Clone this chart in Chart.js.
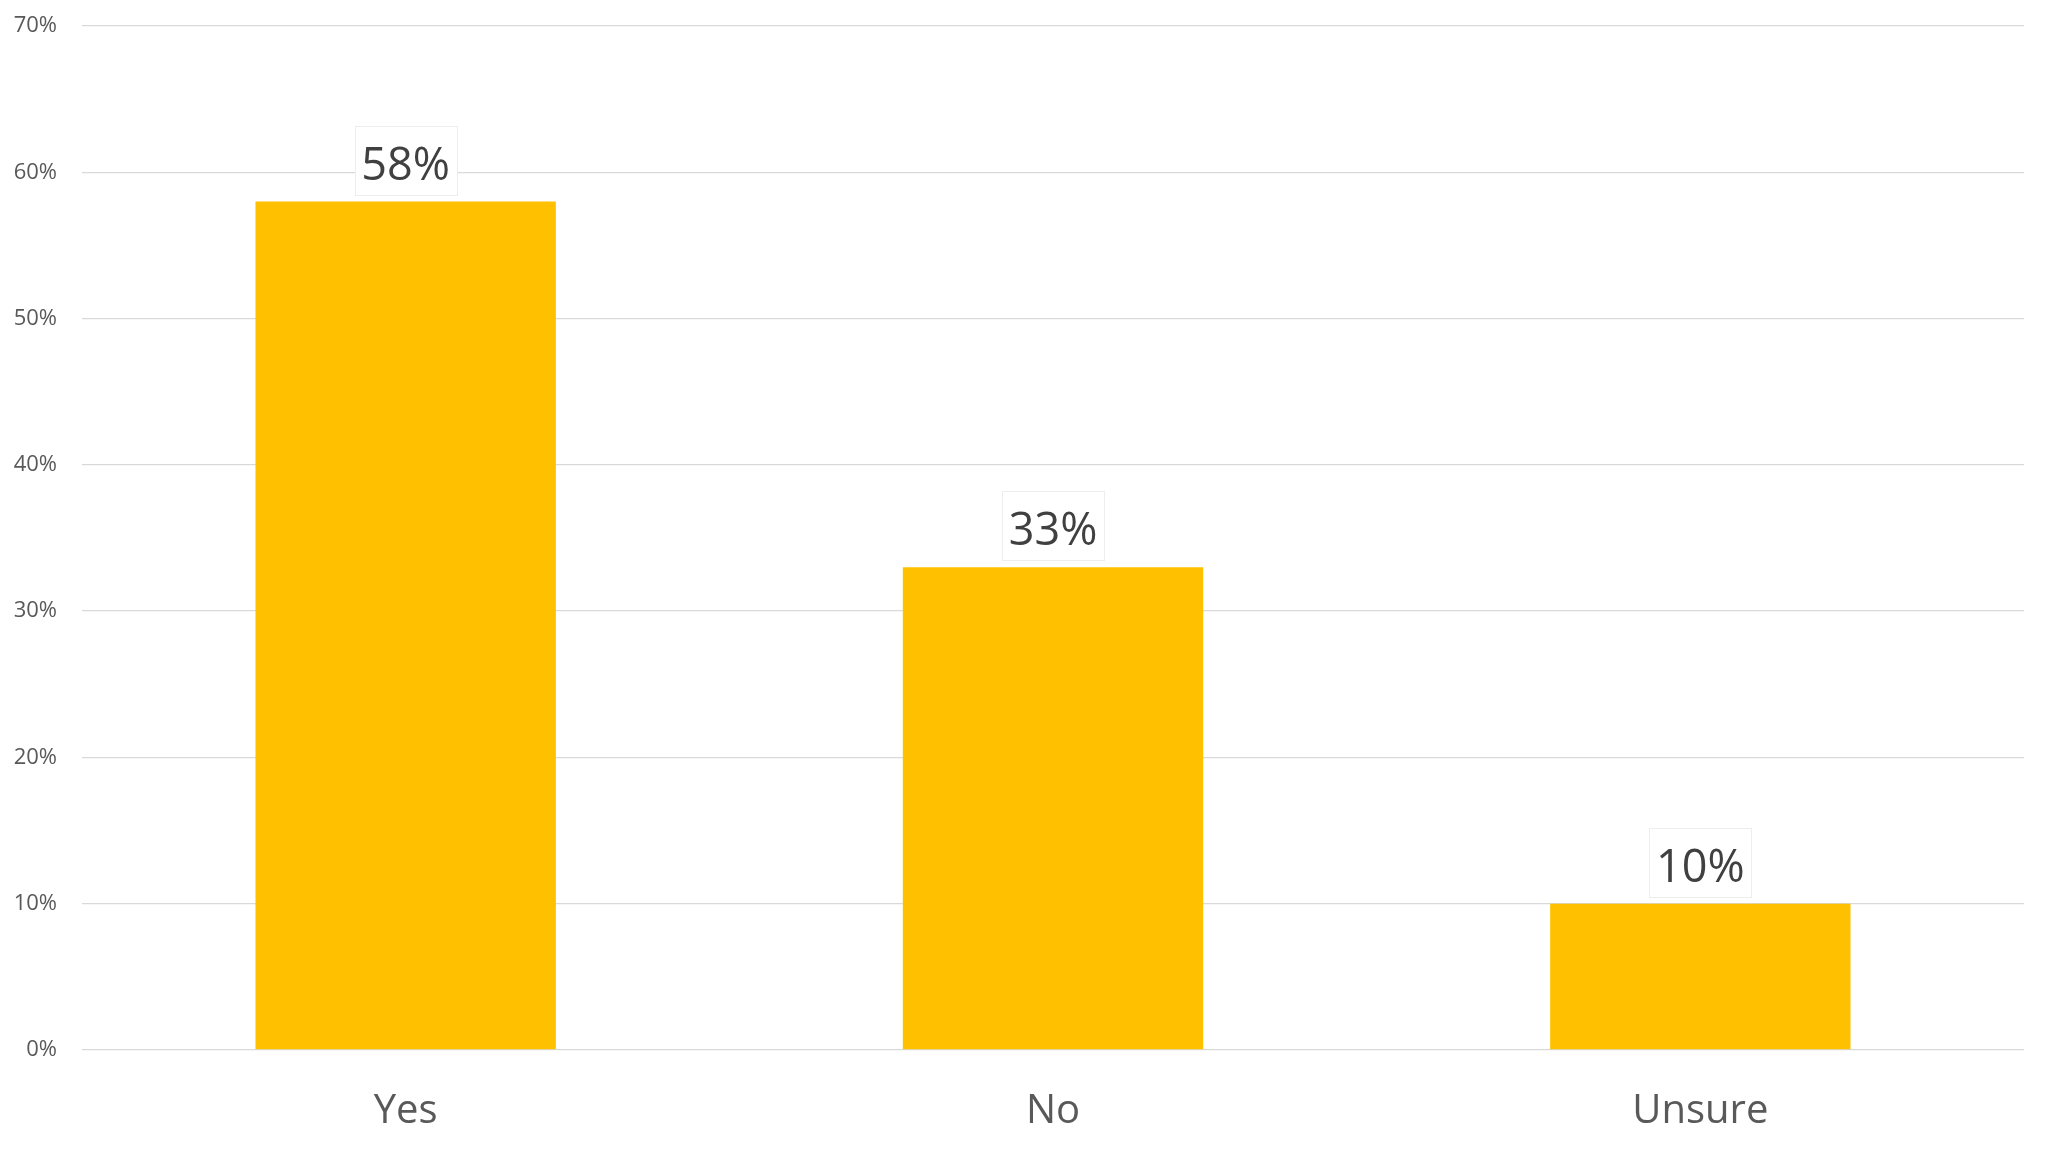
<!DOCTYPE html>
<html>
<head>
    <title>Survey Responses</title>
    <script src="https://cdn.jsdelivr.net/npm/chart.js"></script>
    <style>
        html, body { margin: 0; padding: 0; background: #ffffff; }
        #wrap { width: 2048px; height: 1152px; }
    </style>
</head>
<body>
<div id="wrap"><canvas id="responseChart"></canvas></div>
<script>
    const categories = ['Yes', 'No', 'Unsure'];
    const responseShare = [58, 33, 10];
    const yTicks = [0, 10, 20, 30, 40, 50, 60, 70];

    const fontFamily = "'Open Sans', 'Noto Sans', sans-serif";

    // draws the value label in a white box just above each bar
    const valueLabels = {
        id: 'valueLabels',
        afterDatasetsDraw(chart) {
            const ctx = chart.ctx;
            const meta = chart.getDatasetMeta(0);
            ctx.save();
            ctx.font = '45px ' + fontFamily;
            ctx.textAlign = 'center';
            ctx.textBaseline = 'alphabetic';
            meta.data.forEach((bar, i) => {
                const text = responseShare[i] + '%';
                const x = bar.x;
                const top = bar.y;
                const boxW = 102, boxH = 69;
                const bx = Math.round(x - boxW / 2) + 0.5;
                const by = Math.round(top - 7 - boxH) + 0.5;
                ctx.fillStyle = '#ffffff';
                ctx.fillRect(bx, by, boxW, boxH);
                ctx.strokeStyle = '#ededed';
                ctx.lineWidth = 1;
                ctx.strokeRect(bx, by, boxW, boxH);
                ctx.fillStyle = '#404040';
                ctx.fillText(text, x, top - 22);
            });
            ctx.restore();
        }
    };

    const ctx = document.getElementById('responseChart').getContext('2d');
    new Chart(ctx, {
        type: 'bar',
        data: {
            labels: categories,
            datasets: [{
                label: 'Share',
                data: responseShare,
                backgroundColor: '#FFC000',
                borderWidth: 0,
                categoryPercentage: 1.0,
                barPercentage: 0.464
            }]
        },
        options: {
            responsive: true,
            maintainAspectRatio: false,
            animation: false,
            layout: {
                padding: { left: 0, right: 24, top: 26, bottom: 0 }
            },
            plugins: {
                legend: { display: false },
                tooltip: { enabled: false }
            },
            scales: {
                x: {
                    grid: { display: false, drawTicks: false },
                    border: { display: false },
                    ticks: {
                        color: '#595959',
                        font: { family: fontFamily, size: 40 },
                        padding: 38
                    },
                    afterFit(scale) { scale.height = 102; }
                },
                y: {
                    min: 0,
                    max: 70,
                    grid: { color: '#d9d9d9', lineWidth: 1.3, drawTicks: false },
                    border: { display: false },
                    afterBuildTicks(scale) {
                        scale.ticks = yTicks.map(v => ({ value: v }));
                    },
                    ticks: {
                        color: '#595959',
                        font: { family: fontFamily, size: 22 },
                        padding: 25,
                        callback: v => v + '%'
                    },
                    afterFit(scale) {
                        scale.width = 82;
                        scale.paddingTop = 0;
                        scale.paddingBottom = 0;
                    }
                }
            }
        },
        plugins: [valueLabels]
    });
</script>
</body>
</html>
